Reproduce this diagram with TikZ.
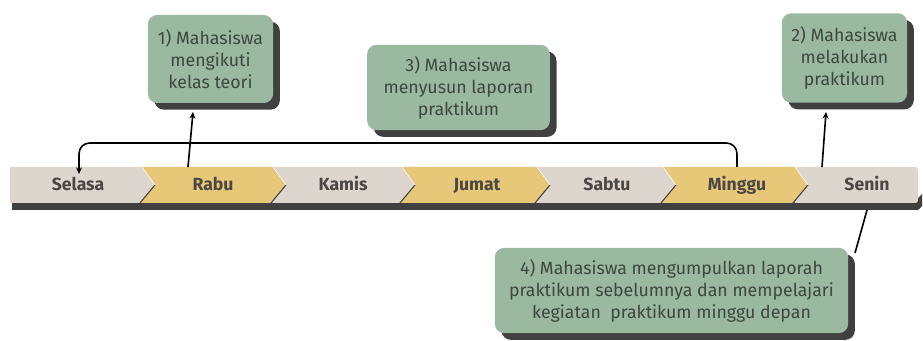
\documentclass[tikz,border=0pt]{standalone}
\usepackage{fontspec}
\setmainfont{Fira Sans}
\usetikzlibrary{arrows.meta,shadows}
\definecolor{segGray}{HTML}{DDD6CE}
\definecolor{segGold}{HTML}{E6C878}
\definecolor{barDark}{HTML}{404040}
\definecolor{boxGreen}{HTML}{9BB8A0}
\definecolor{boxText}{HTML}{3C4840}
\definecolor{dayText}{HTML}{4A4744}
\begin{document}
\begin{tikzpicture}[x=0.75pt,y=-0.75pt,
  daylabel/.style={font=\bfseries\fontsize{13.2}{15}\selectfont, text=dayText, inner sep=0pt, anchor=base},
  notebox/.style={fill=boxGreen, rounded corners=7pt, align=center, text=boxText,
    font=\fontsize{13.3}{16.5}\selectfont, inner sep=0pt,
    drop shadow={shadow xshift=5pt, shadow yshift=-5pt, fill=barDark, opacity=1}},
  conn/.style={line width=1.2pt, black},
  arr/.style={conn, -{Stealth[length=5pt,width=4.5pt]}}]
\useasboundingbox (0,0) rectangle (923,341);
% bar shadow
\fill[barDark] (12,198) -- (918,198) -- (922,194) -- (922,206) -- (918,210) -- (12,210) -- cycle;
% segments
\def\ya{167}\def\ym{185}\def\yb{203}
\fill[segGray] (10,\ya) -- (142,\ya) -- (155,\ym) -- (140,\yb) -- (10,\yb) -- cycle;
\fill[segGold] (142,\ya) -- (273,\ya) -- (286,\ym) -- (271,\yb) -- (140,\yb) -- (155,\ym) -- cycle;
\fill[segGray] (273,\ya) -- (402,\ya) -- (415,\ym) -- (400,\yb) -- (271,\yb) -- (286,\ym) -- cycle;
\fill[segGold] (402,\ya) -- (537,\ya) -- (550,\ym) -- (535,\yb) -- (400,\yb) -- (415,\ym) -- cycle;
\fill[segGray] (537,\ya) -- (663,\ya) -- (676,\ym) -- (661,\yb) -- (535,\yb) -- (550,\ym) -- cycle;
\fill[segGold] (663,\ya) -- (795,\ya) -- (808,\ym) -- (793,\yb) -- (661,\yb) -- (676,\ym) -- cycle;
\fill[segGray, rounded corners=2pt] (795,\ya) -- (918,\ya) -- (918,\yb) -- (793,\yb) -- (808,\ym) -- cycle;
% chevron edges
\foreach \xa in {155,286,415,550,676,808}{
  \draw[barDark, line width=0.8pt] (\xa,\ym) -- ++(-15,18);
  \draw[white, line width=0.4pt] (\xa,\ym) -- ++(-13,-18);
}
% day labels
\node[daylabel] (selasa) at (78,191) {Selasa};
\node[daylabel] (rabu) at (213,191) {Rabu};
\node[daylabel] (kamis) at (343,191) {Kamis};
\node[daylabel] (jumat) at (477,191) {Jumat};
\node[daylabel] (sabtu) at (607,191) {Sabtu};
\node[daylabel] (minggu) at (737,191) {Minggu};
\node[daylabel] (senin) at (867,191) {Senin};
% boxes
\node[notebox, minimum width=94pt, minimum height=66pt] (b1) at (210.5,59) {1) Mahasiswa\\mengikuti\\kelas teori};
\node[notebox, minimum width=137pt, minimum height=64pt] (b3) at (458.5,87.5) {3) Mahasiswa\\menyusun laporan\\praktikum};
\node[notebox, minimum width=94pt, minimum height=67pt] (b2) at (844.5,58) {2) Mahasiswa\\melakukan\\praktikum};
\node[notebox, minimum width=265pt, minimum height=64pt] (b4) at (671.5,290.5) {4) Mahasiswa mengumpulkan laporah\\praktikum sebelumnya dan mempelajari\\kegiatan\ \ praktikum minggu depan};
% connector coordinates
\coordinate (rabuTop) at (188,167);
\coordinate (b1Tip) at (193,112);
\coordinate (mingguTop) at (737,167);
\coordinate (loopR) at (737,143);
\coordinate (loopL) at (79,143);
\coordinate (selasaTip) at (79,174);
\coordinate (seninTop) at (822,167);
\coordinate (b2Tip) at (826,112);
\coordinate (seninBot) at (867,210);
\coordinate (b4Top) at (855,253);
\draw[arr] (rabuTop) -- (b1Tip);
\draw[arr, rounded corners=8pt] (mingguTop) -- (loopR) -- (loopL) -- (selasaTip);
\draw[arr] (seninTop) -- (b2Tip);
\draw[conn] (seninBot) -- (b4Top);
\end{tikzpicture}
\end{document}
